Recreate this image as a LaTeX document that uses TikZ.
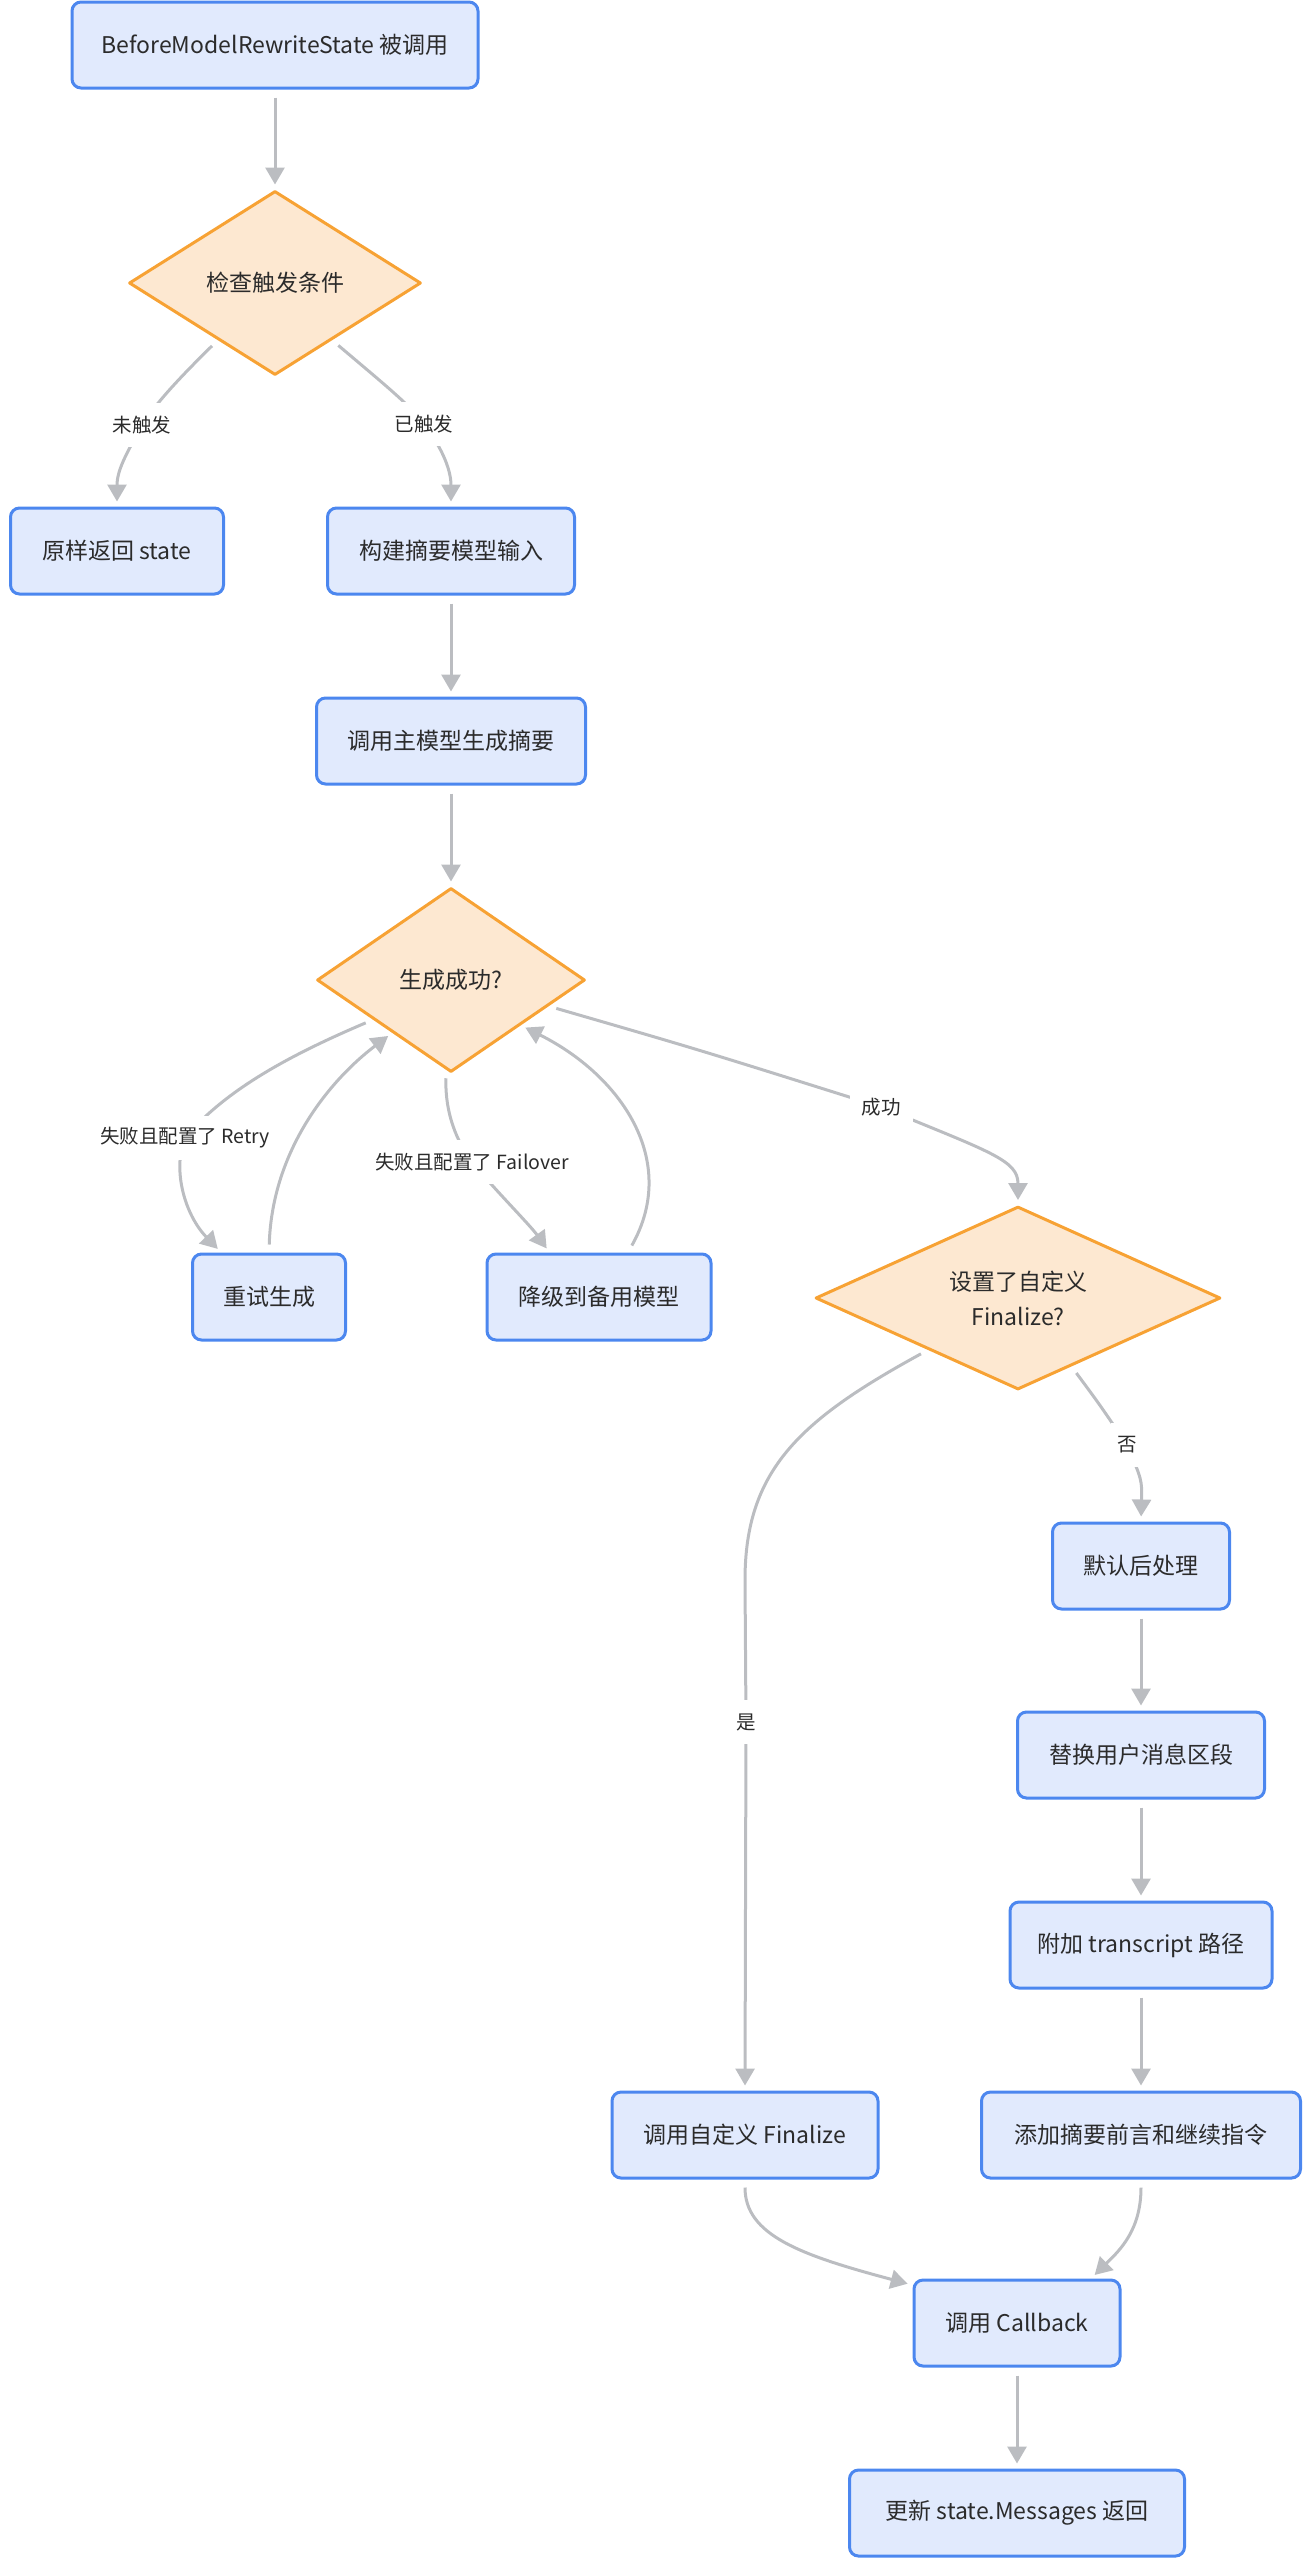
\documentclass[tikz,border=0pt]{standalone}
\usepackage{fontspec}
\setmainfont{Noto Sans CJK SC}
\usetikzlibrary{shapes.geometric,arrows.meta}
\definecolor{boxfill}{HTML}{E1EAFD}
\definecolor{boxline}{HTML}{4C87EF}
\definecolor{decfill}{HTML}{FDE8D1}
\definecolor{decline}{HTML}{F7A234}
\definecolor{conncol}{HTML}{BBBDC1}
\definecolor{txt}{HTML}{2B2B2B}
\pgfdeclarelayer{bg}
\pgfsetlayers{bg,main}
\begin{document}
\begin{tikzpicture}[x=1pt,y=-1pt,
 box/.style={draw=boxline, fill=boxfill, line width=3pt, rounded corners=9pt, minimum height=86pt, inner sep=0pt, text=txt, font=\fontsize{23}{28}\selectfont},
 dec/.style={diamond, draw=decline, fill=decfill, line width=3pt, line join=round, inner sep=0pt, text=txt, font=\fontsize{23}{35}\selectfont, align=center},
 conn/.style={draw=conncol, line width=3pt, -{Triangle[length=17pt,width=19pt]}, shorten <=8pt, shorten >=5pt},
 lbl/.style={fill=white, text=txt, font=\fontsize{19.5}{24}\selectfont, inner xsep=6pt, inner ysep=0pt, minimum height=44pt}]
\useasboundingbox (0,0) rectangle (1312,2560);
% nodes
\node[box, minimum width=406pt] (A) at (275,45) {BeforeModelRewriteState 被调用};
\node[dec, minimum width=292pt, minimum height=184pt] (B) at (275,283) {检查触发条件};
\node[box, minimum width=213pt] (C) at (117,551) {原样返回 state};
\node[box, minimum width=247pt] (D) at (451,551) {构建摘要模型输入};
\node[box, minimum width=269pt] (E) at (451,741) {调用主模型生成摘要};
\node[dec, minimum width=268pt, minimum height=184pt] (F) at (451,980) {生成成功?};
\node[box, minimum width=153pt] (G) at (269,1297) {重试生成};
\node[box, minimum width=224pt] (H) at (599,1297) {降级到备用模型};
\node[dec, aspect=2, minimum width=405pt, minimum height=183pt] (I) at (1018,1298) {设置了自定义\\Finalize?};
\node[box, minimum width=177pt] (J) at (1141,1566) {默认后处理};
\node[box, minimum width=247pt] (K) at (1141,1755) {替换用户消息区段};
\node[box, minimum width=262pt] (L) at (1141,1945) {附加 transcript 路径};
\node[box, minimum width=266pt] (M) at (745,2135) {调用自定义 Finalize};
\node[box, minimum width=319pt] (N) at (1141,2135) {添加摘要前言和继续指令};
\node[box, minimum width=206pt] (O) at (1017,2323) {调用 Callback};
\node[box, minimum width=335pt] (P) at (1017,2513) {更新 state.Messages 返回};
% labels
\node[lbl] (t1) at (142,425) {未触发};
\node[lbl] (t2) at (424,424) {已触发};
\node[lbl] (t3) at (185,1138) {失败且配置了 Retry};
\node[lbl] (t4) at (472,1162) {失败且配置了 Failover};
\node[lbl, inner xsep=12pt] (t5) at (881,1107) {成功};
\node[lbl] (t6) at (1127,1445) {否};
\node[lbl] (t7) at (746,1722) {是};
% connectors
\begin{pgfonlayer}{bg}
\draw[conn] (A.south) -- (B.north);
\draw[conn] (B.-135) .. controls (165,392) and (152,410) .. (t1.center) .. controls (130,448) and (117,468) .. (C.north);
\draw[conn] (B.-45) .. controls (385,385) and (410,405) .. (t2.center) .. controls (440,445) and (451,468) .. (D.north);
\draw[conn] (D.south) -- (E.north);
\draw[conn] (E.south) -- (F.north);
\draw[conn] (F.-153) .. controls (290,1055) and (225,1090) .. (t3.center) .. controls (172,1170) and (185,1215) .. (G.137);
\draw[conn] (G.north) .. controls (272,1150) and (330,1080) .. (F.-138);
\draw[conn] (F.-93) .. controls (445,1105) and (452,1135) .. (t4.center) .. controls (495,1190) and (530,1225) .. (H.138);
\draw[conn] (H.57) .. controls (680,1160) and (620,1075) .. (F.-33);
\draw[conn] (F.-15) .. controls (700,1050) .. (t5.center) .. controls (990,1152) and (1018,1160) .. (I.north);
\draw[conn] (I.-52) .. controls (1100,1405) .. (t6.center) .. controls (1142,1480) .. (J.north);
\draw[conn] (I.-150) .. controls (800,1420) and (745,1470) .. (745,1580) -- (t7.center) -- (M.north);
\draw[conn] (J.south) -- (K.north);
\draw[conn] (K.south) -- (L.north);
\draw[conn] (L.south) -- (N.north);
\draw[conn] (M.south) .. controls (745,2235) and (800,2255) .. (O.160);
\draw[conn] (N.south) .. controls (1141,2230) and (1120,2250) .. (O.31);
\draw[conn] (O.south) -- (P.north);
\end{pgfonlayer}
\end{tikzpicture}
\end{document}
